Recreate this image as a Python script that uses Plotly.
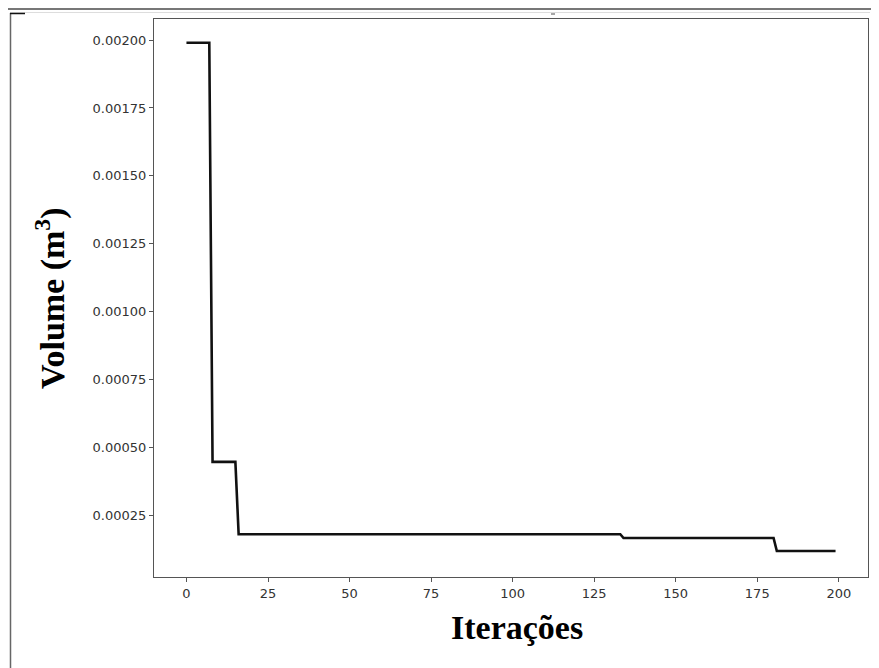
import plotly.graph_objects as go

# step breakpoints of the volume curve
iteracoes = [0, 7, 8, 15, 16, 133, 134, 180, 181, 199]
volume = [0.00199, 0.00199, 0.000448, 0.000448, 0.000182, 0.000182,
          0.000168, 0.000168, 0.000120, 0.000120]

x_ticks = [0, 25, 50, 75, 100, 125, 150, 175, 200]
y_ticks = [0.00025, 0.0005, 0.00075, 0.001, 0.00125, 0.0015, 0.00175, 0.002]

# the page body has an 8px margin, so everything is laid out 8px up/left
OFF = 8
W, H = 879 - OFF, 668 - OFF
L, R, T, B = 154 - OFF, 868 - OFF, 19 - OFF, 577 - OFF


def px(x):
    return (x - OFF - L) / (R - L)


def py(y):
    return (B - (y - OFF)) / (B - T)


fig = go.Figure()
fig.add_trace(go.Scatter(x=iteracoes, y=volume, mode="lines",
                         line=dict(color="#111111", width=2.6)))

axis_style = dict(showgrid=False, zeroline=False, showline=True, mirror=True,
                  linecolor="#555555", linewidth=1.3, ticks="outside", ticklen=4,
                  tickcolor="#555555", tickwidth=1,
                  tickfont=dict(family="DejaVu Sans", size=13, color="#333333"))

fig.update_xaxes(range=[-9.95, 208.95], tickvals=x_ticks, **axis_style)
fig.update_yaxes(range=[0.0000245, 0.0020773], tickvals=y_ticks,
                 tickformat=".5f", **axis_style)

title_font = dict(family="Liberation Serif", size=34, color="black", weight="bold")
fig.add_annotation(text="Iterações", x=px(517), y=py(627), xref="paper", yref="paper",
                   showarrow=False, font=title_font, xanchor="center", yanchor="middle")
fig.add_annotation(text="Volume (m<sup>3</sup>)",
                   x=px(50), y=py(298), xref="paper", yref="paper", textangle=-90,
                   showarrow=False, font=title_font, xanchor="center", yanchor="middle")

# frame lines around the screenshot
shapes = [
    dict(x0=px(OFF), x1=px(879), y0=py(9), y1=py(9), color="#777777", width=2),
    dict(x0=px(10), x1=px(870), y0=py(12.5), y1=py(12.5), color="#dddddd", width=1),
    dict(x0=px(10.5), x1=px(10.5), y0=py(13), y1=py(668), color="#666666", width=1.5),
    dict(x0=px(10), x1=px(25), y0=py(13.5), y1=py(13.5), color="#111111", width=1.5),
    dict(x0=px(872), x1=px(879), y0=py(13.5), y1=py(13.5), color="#111111", width=1.5),
    dict(x0=px(551), x1=px(555), y0=py(14), y1=py(14), color="#888888", width=1.5),
]
for s in shapes:
    fig.add_shape(type="line", xref="paper", yref="paper",
                  x0=s["x0"], x1=s["x1"], y0=s["y0"], y1=s["y1"],
                  line=dict(color=s["color"], width=s["width"]))

fig.update_layout(width=W, height=H, showlegend=False,
                  margin=dict(l=L, r=W - R, t=T, b=H - B),
                  paper_bgcolor="white", plot_bgcolor="white")

fig.write_html("out.html")
